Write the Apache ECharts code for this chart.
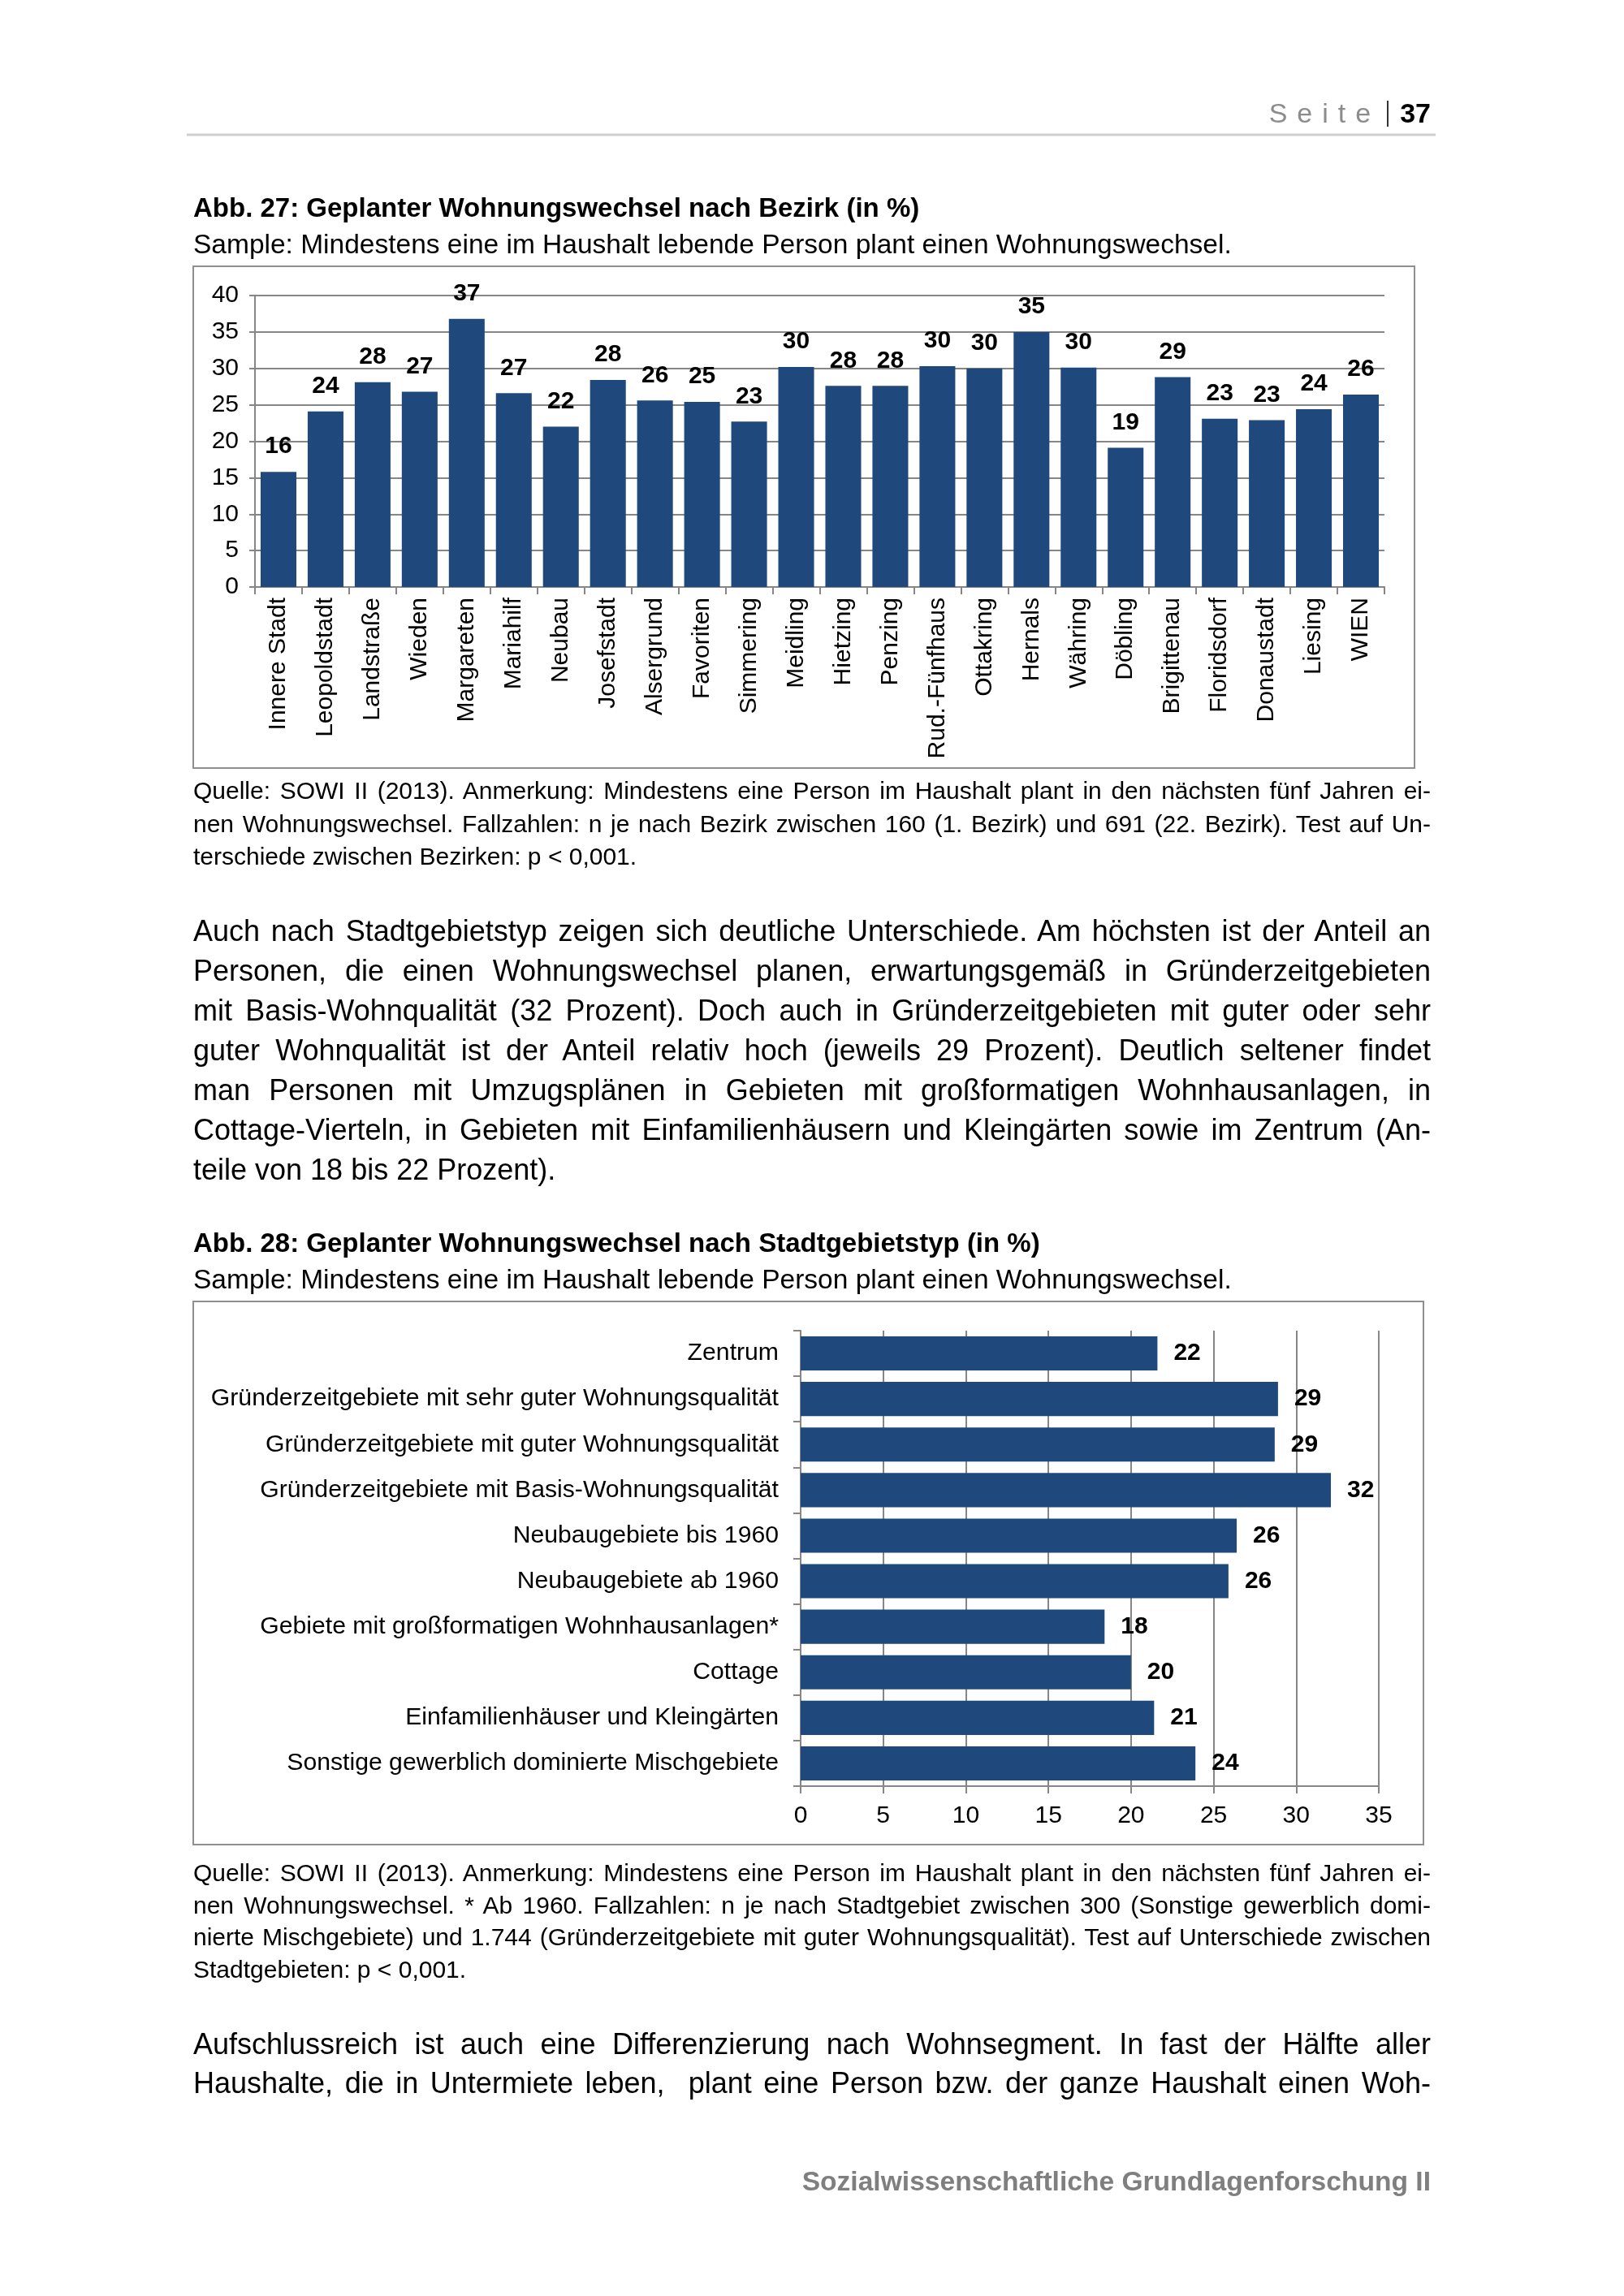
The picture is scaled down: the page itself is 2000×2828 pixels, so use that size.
<!DOCTYPE html>
<html>
<head>
<meta charset="utf-8">
<script src="https://cdn.jsdelivr.net/npm/echarts@6/dist/echarts.min.js"></script>
<style>
html,body{margin:0;padding:0;background:#fff;}
body{width:2000px;height:2828px;position:relative;overflow:hidden;font-family:'Liberation Sans',Arial,Helvetica,sans-serif;color:#000;}
#chart{position:absolute;left:0;top:0;width:2000px;height:2828px;z-index:1;}
.t{position:absolute;white-space:nowrap;z-index:2;}
.j{position:absolute;left:238px;width:1524px;z-index:2;}
.j div{text-align:justify;text-align-last:justify;}
.j div.last{text-align-last:left;}
.cap{font-weight:bold;font-size:33px;line-height:40px;left:238px;}
.smp{font-size:33.5px;line-height:40px;left:238px;}
.note{font-size:30px;line-height:40.5px;}
.body{font-size:36px;line-height:49px;}
</style>
</head>
<body>
<div id="chart"></div>

<div class="t" style="right:238px;top:119px;line-height:40px;font-size:34px;">
  <span style="color:#8c8c8c;letter-spacing:12px;">Seite</span><span style="display:inline-block;width:2px;height:32px;background:#333;vertical-align:-5px;margin:0 14px 0 8px;"></span><span style="font-weight:bold;">37</span>
</div>

<div class="t cap" style="top:236px;">Abb. 27: Geplanter Wohnungswechsel nach Bezirk (in %)</div>
<div class="t smp" style="top:281px;">Sample: Mindestens eine im Haushalt lebende Person plant einen Wohnungswechsel.</div>

<div class="j note" style="top:954px;">
  <div>Quelle: SOWI II (2013). Anmerkung: Mindestens eine Person im Haushalt plant in den nächsten fünf Jahren ei-</div>
  <div>nen Wohnungswechsel. Fallzahlen: n je nach Bezirk zwischen 160 (1. Bezirk) und 691 (22. Bezirk). Test auf Un-</div>
  <div class="last">terschiede zwischen Bezirken: p &lt; 0,001.</div>
</div>

<div class="j body" style="top:1122px;">
  <div>Auch nach Stadtgebietstyp zeigen sich deutliche Unterschiede. Am höchsten ist der Anteil an</div>
  <div>Personen, die einen Wohnungswechsel planen, erwartungsgemäß in Gründerzeitgebieten</div>
  <div>mit Basis-Wohnqualität (32 Prozent). Doch auch in Gründerzeitgebieten mit guter oder sehr</div>
  <div>guter Wohnqualität ist der Anteil relativ hoch (jeweils 29 Prozent). Deutlich seltener findet</div>
  <div>man Personen mit Umzugsplänen in Gebieten mit großformatigen Wohnhausanlagen, in</div>
  <div>Cottage-Vierteln, in Gebieten mit Einfamilienhäusern und Kleingärten sowie im Zentrum (An-</div>
  <div class="last">teile von 18 bis 22 Prozent).</div>
</div>

<div class="t cap" style="top:1511px;">Abb. 28: Geplanter Wohnungswechsel nach Stadtgebietstyp (in %)</div>
<div class="t smp" style="top:1556px;">Sample: Mindestens eine im Haushalt lebende Person plant einen Wohnungswechsel.</div>

<div class="j note" style="top:2287px;line-height:39.7px;">
  <div>Quelle: SOWI II (2013). Anmerkung: Mindestens eine Person im Haushalt plant in den nächsten fünf Jahren ei-</div>
  <div>nen Wohnungswechsel. * Ab 1960. Fallzahlen: n je nach Stadtgebiet zwischen 300 (Sonstige gewerblich domi-</div>
  <div>nierte Mischgebiete) und 1.744 (Gründerzeitgebiete mit guter Wohnungsqualität). Test auf Unterschiede zwischen</div>
  <div class="last">Stadtgebieten: p &lt; 0,001.</div>
</div>

<div class="j body" style="top:2494px;line-height:48px;">
  <div>Aufschlussreich ist auch eine Differenzierung nach Wohnsegment. In fast der Hälfte aller</div>
  <div>Haushalte, die in Untermiete leben,&nbsp; plant eine Person bzw. der ganze Haushalt einen Woh-</div>
</div>

<div class="t" style="right:238px;top:2667px;line-height:40px;font-size:33.6px;font-weight:bold;color:#7f7f7f;">Sozialwissenschaftliche Grundlagenforschung II</div>

<script>
// ---- Data: Abb. 27 (districts) ----
const districts = ['Innere Stadt','Leopoldstadt','Landstraße','Wieden','Margareten','Mariahilf','Neubau','Josefstadt','Alsergrund','Favoriten','Simmering','Meidling','Hietzing','Penzing','Rud.-Fünfhaus','Ottakring','Hernals','Währing','Döbling','Brigittenau','Floridsdorf','Donaustadt','Liesing','WIEN'];
const districtValues = [15.8,24.1,28.1,26.8,36.8,26.6,22.0,28.4,25.6,25.4,22.7,30.2,27.6,27.6,30.3,30.0,35.0,30.1,19.1,28.8,23.1,22.9,24.4,26.4];
const districtTicks = [0,5,10,15,20,25,30,35,40];

// ---- Data: Abb. 28 (area types) ----
const areaTypes = ['Zentrum','Gründerzeitgebiete mit sehr guter Wohnungsqualität','Gründerzeitgebiete mit guter Wohnungsqualität','Gründerzeitgebiete mit Basis-Wohnungsqualität','Neubaugebiete bis 1960','Neubaugebiete ab 1960','Gebiete mit großformatigen Wohnhausanlagen*','Cottage','Einfamilienhäuser und Kleingärten','Sonstige gewerblich dominierte Mischgebiete'];
const areaValues = [21.6,28.9,28.7,32.1,26.4,25.9,18.4,20.0,21.4,23.9];
const areaTicks = [0,5,10,15,20,25,30,35];

const FONT = "'Liberation Sans', Arial, Helvetica, sans-serif";
const GRAY = '#868686';
const BLUE = '#1f497d';

const chart = echarts.init(document.getElementById('chart'), null, {renderer:'canvas'});

const lineStyle = {color: GRAY, width: 2};

const option = {
  animation: false,
  textStyle: {fontFamily: FONT, color: '#000'},
  grid: [
    {left: 314, top: 364, width: 1391, height: 359, containLabel: false},
    {left: 986, top: 1639, width: 712, height: 561, containLabel: false}
  ],
  xAxis: [
    {
      gridIndex: 0, type: 'category', data: districts,
      axisLine: {show: true, lineStyle: lineStyle},
      axisTick: {show: true, length: 9, lineStyle: lineStyle},
      axisLabel: {interval: 0, rotate: 90, margin: 13, fontSize: 30, color: '#000', fontFamily: FONT},
      splitLine: {show: false}
    },
    {
      gridIndex: 1, type: 'value',
      min: areaTicks[0], max: areaTicks[areaTicks.length - 1], interval: areaTicks[1] - areaTicks[0],
      axisLine: {show: true, lineStyle: lineStyle},
      axisTick: {show: true, length: 9, lineStyle: lineStyle},
      axisLabel: {fontSize: 30, margin: 22, color: '#000', fontFamily: FONT},
      splitLine: {show: true, lineStyle: lineStyle}
    }
  ],
  yAxis: [
    {
      gridIndex: 0, type: 'value',
      min: districtTicks[0], max: districtTicks[districtTicks.length - 1], interval: districtTicks[1] - districtTicks[0],
      axisLine: {show: true, lineStyle: lineStyle},
      axisTick: {show: true, length: 7, lineStyle: lineStyle},
      axisLabel: {fontSize: 30, margin: 20, color: '#000', fontFamily: FONT},
      splitLine: {show: true, lineStyle: lineStyle}
    },
    {
      gridIndex: 1, type: 'category', data: areaTypes, inverse: true,
      axisLine: {show: true, lineStyle: lineStyle},
      axisTick: {show: true, length: 9, lineStyle: lineStyle},
      axisLabel: {interval: 0, fontSize: 30.2, margin: 27, color: '#000', fontFamily: FONT},
      splitLine: {show: false}
    }
  ],
  series: [
    {
      type: 'bar', xAxisIndex: 0, yAxisIndex: 0, data: districtValues,
      barCategoryGap: '24%',
      itemStyle: {color: BLUE},
      label: {show: true, position: 'top', distance: 16, fontSize: 30, fontWeight: 'bold', color: '#000', fontFamily: FONT,
        formatter: p => Math.round(p.value)}
    },
    {
      type: 'bar', xAxisIndex: 1, yAxisIndex: 1, data: areaValues,
      barCategoryGap: '25%',
      itemStyle: {color: BLUE},
      label: {show: true, position: 'right', distance: 20, fontSize: 30, fontWeight: 'bold', color: '#000', fontFamily: FONT,
        formatter: p => Math.round(p.value)}
    }
  ],
  graphic: [
    {type: 'line', shape: {x1: 230, y1: 166, x2: 1768, y2: 166}, style: {stroke: '#cfcfcf', lineWidth: 3}, silent: true},
    {type: 'rect', shape: {x: 238, y: 328, width: 1504, height: 618}, style: {fill: 'none', stroke: '#8f8f8f', lineWidth: 2}, silent: true, z: -1},
    {type: 'rect', shape: {x: 238, y: 1603, width: 1515, height: 669}, style: {fill: 'none', stroke: '#8f8f8f', lineWidth: 2}, silent: true, z: -1}
  ]
};

chart.setOption(option);
</script>
</body>
</html>
